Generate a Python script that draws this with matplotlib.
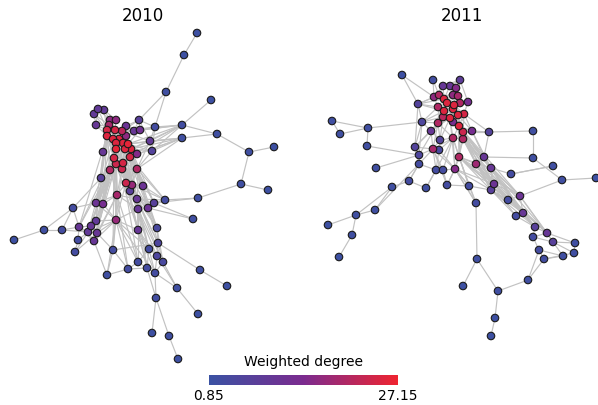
import matplotlib
matplotlib.use("Agg")
import matplotlib.pyplot as plt
from matplotlib.colors import LinearSegmentedColormap, Normalize
from matplotlib.collections import LineCollection
import numpy as np

# ---- 2010 network: node layout, weighted degree, edges ----
x_2010 = [197, 184, 166, 211, 182, 155, 182, 217, 249, 274, 241, 268, 198, 165, 139, 152, 150, 98, 104, 94,
          96, 110, 116, 109, 126, 134, 140, 107, 115, 122, 126, 107, 113, 119, 116, 123, 128, 116, 125, 131,
          103, 137, 114, 130, 116, 123, 110, 122, 137, 101, 126, 132, 143, 130, 117, 137, 73, 96, 103, 138,
          148, 154, 193, 44, 62, 14, 79, 91, 96, 116, 138, 157, 88, 97, 78, 94, 75, 113, 158, 149,
          157, 163, 138, 128, 147, 155, 107, 200, 227, 177, 156, 198, 152, 169, 178]
y_2010 = [33, 55, 92, 100, 125, 127, 138, 134, 152, 147, 184, 190, 198, 200, 120, 151, 141, 109, 110, 114,
          125, 120, 120, 125, 126, 131, 130, 130, 130, 131, 136, 136, 139, 139, 143, 143, 144, 149, 149, 149,
          152, 154, 158, 157, 164, 163, 170, 169, 169, 178, 183, 185, 186, 191, 195, 199, 208, 203, 204, 209,
          208, 203, 219, 230, 230, 240, 227, 226, 221, 220, 230, 228, 232, 233, 240, 241, 252, 250, 243, 249,
          256, 262, 262, 269, 268, 273, 275, 270, 286, 288, 298, 314, 333, 336, 359]
deg_2010 = [1.5, 1.5, 2, 1.5, 2.5, 3, 2, 2, 2, 1.5, 2, 1.5, 2, 3, 7, 6, 9, 9, 9, 9,
            10, 16, 16, 19, 11, 10, 12, 24, 24, 21, 16, 25, 25, 25, 25, 25, 26, 26, 25, 25,
            10, 15, 24, 24, 23, 24, 20, 23, 20, 7, 23, 17, 11, 7, 19, 10, 3, 11, 13, 10,
            11, 7, 2, 2, 3, 1.5, 10, 10, 9, 17, 10, 4, 9, 10, 3, 10, 3, 3, 5, 3,
            5, 4, 3, 3, 3, 3, 2, 2, 1.5, 2, 2.5, 1.5, 1.5, 2, 1.5]
adj_2010 = {
    1: [2], 2: [3], 3: [6, 15], 4: [5], 5: [6, 8, 16, 17, 26, 27, 40, 44], 6: [17, 16, 27, 15],
    7: [8, 16, 17, 42, 40, 44, 49],
    8: [9], 9: [10, 11], 11: [12, 13], 13: [14, 62], 14: [53, 56, 61, 62, 52, 44, 49], 63: [62, 61],
    57: [65, 67, 58, 50, 64], 64: [66, 65], 65: [67, 73], 75: [67, 73, 77], 77: [73, 74],
    78: [70, 87, 84, 79], 87: [84, 76, 70], 84: [83, 85], 88: [79, 89], 90: [86, 82, 92],
    91: [86, 85, 93, 94], 94: [95],
    28: [18, 19, 20, 21, 22, 23, 24, 29, 32, 33, 34, 35, 38, 41, 43, 47, 50, 58],
    29: [22, 23, 24, 25, 30, 33, 34, 36, 39, 43, 44, 45],
    30: [25, 26, 27, 31, 34, 36, 37, 40, 15, 6, 17],
    32: [21, 33, 35, 38, 41, 43, 45, 47, 50, 59, 69, 67],
    33: [34, 35, 36, 38, 39, 45, 46, 55, 70, 73],
    34: [36, 37, 39, 40, 44, 46, 48, 51, 60],
    35: [38, 39, 43, 45, 47, 48, 55, 58, 76],
    36: [37, 39, 40, 44, 46, 49, 52, 56],
    37: [40, 42, 44, 49, 16, 17, 27, 5, 7],
    38: [39, 43, 44, 45, 46, 47, 51, 55, 59, 67, 68, 74],
    39: [40, 44, 46, 48, 49, 51, 52, 53, 61],
    40: [42, 44, 49, 53, 16, 17, 61, 62],
    43: [45, 46, 47, 50, 55, 58, 59, 70, 73, 74, 78],
    44: [46, 48, 49, 51, 52, 53, 56, 60, 62, 72],
    45: [46, 47, 48, 51, 55, 58, 69, 76, 71],
    46: [48, 49, 51, 52, 54, 56, 61, 71, 80],
    47: [48, 50, 55, 58, 59, 68, 69, 73, 67, 76],
    48: [49, 51, 52, 54, 55, 56, 60, 70, 72, 79, 83],
    49: [51, 52, 53, 56, 61, 62, 17, 16, 72],
    51: [52, 53, 54, 55, 56, 60, 61, 70, 71, 81, 85],
    55: [56, 58, 59, 60, 70, 74, 76, 78, 83, 84],
    70: [59, 60, 71, 74, 76, 83, 84, 86, 58, 69, 73, 80],
    56: [60, 61, 62, 71, 72, 79, 80, 82], 60: [71, 80, 82, 85], 61: [62, 72, 79],
    71: [80, 81, 83, 85, 86], 72: [79, 81, 82], 79: [80, 81, 82], 80: [81, 83, 85, 86],
    81: [82, 86, 90], 82: [86], 83: [85], 85: [86], 74: [76, 73, 78], 73: [67, 68, 76],
    68: [69, 67], 58: [59, 69], 59: [69, 74], 67: [76], 76: [],
    18: [19, 20, 21, 22], 19: [22, 23], 20: [21, 24], 21: [24], 25: [26, 27, 15],
    26: [27, 15], 27: [15], 15: [17], 17: [16], 41: [50],
}

# ---- 2011 network ----
x_2011 = [402, 433, 460, 443, 450, 456, 434, 439, 444, 447, 453, 458, 454, 460, 468, 418, 438, 444, 453, 443,
          450, 458, 464, 332, 422, 438, 453, 459, 368, 340, 431, 463, 472, 489, 533, 463, 453, 440, 367, 415,
          433, 439, 419, 459, 484, 533, 419, 476, 376, 436, 443, 455, 491, 553, 511, 562, 596, 392, 409, 426,
          447, 469, 494, 491, 508, 520, 476, 356, 375, 328, 352, 339, 516, 523, 535, 547, 533, 553, 575, 539,
          563, 574, 544, 477, 528, 463, 498, 495, 491]
y_2011 = [75, 80, 80, 86, 86, 88, 97, 95, 99, 103, 95, 96, 105, 103, 102, 104, 107, 111, 109, 117,
          118, 115, 114, 121, 122, 123, 122, 126, 128, 134, 131, 132, 131, 132, 131, 139, 138, 140, 146, 147,
          149, 150, 155, 157, 157, 158, 164, 164, 168, 170, 170, 169, 168, 166, 174, 180, 178, 187, 181, 188,
          185, 186, 184, 190, 200, 196, 203, 215, 210, 225, 235, 257, 216, 213, 227, 233, 237, 242, 243, 250,
          256, 253, 259, 259, 280, 286, 291, 318, 336]
deg_2011 = [1.5, 2.5, 8, 10, 10, 15, 16, 20, 25, 25, 16, 19, 25, 20, 13, 6, 20, 25, 25, 21,
            25, 25, 24, 2, 5, 20, 13, 25, 2, 2, 10, 23, 13, 6, 2, 20, 20, 6, 2, 6,
            19, 4, 5, 20, 10, 2, 3, 18, 2, 3, 3, 15, 10, 2, 3, 2, 1.5, 2, 3, 2,
            3, 3, 11, 7, 3, 11, 3, 2, 2, 1.5, 2, 1.5, 3, 10, 7, 10, 3, 7, 2, 3,
            2, 2, 2.5, 2, 2, 1.5, 2, 1.5, 1.5]
adj_2011 = {
    1: [7, 16], 2: [7, 8], 24: [29, 30], 30: [29], 29: [39, 25], 39: [43], 35: [34, 46],
    46: [45, 56], 54: [55], 56: [57, 66], 55: [53, 54], 49: [43], 58: [59, 68, 69], 59: [47, 60],
    60: [50], 61: [62, 52], 62: [67, 52, 64], 67: [84, 52], 68: [69, 70, 71], 71: [72], 69: [47],
    84: [86, 87], 87: [85, 88], 88: [89], 85: [80, 83], 65: [66, 64, 63],
    73: [74, 75], 74: [75], 75: [76, 77], 76: [78, 79, 77], 78: [79, 82, 81], 77: [80, 78],
    80: [83, 81], 83: [81], 79: [82], 82: [83],
    9: [7, 8, 10, 11, 12, 13, 17, 18, 4, 5, 6, 16],
    10: [13, 14, 17, 18, 19, 11, 12, 20],
    13: [14, 15, 18, 19, 22, 23, 12, 6],
    18: [19, 20, 21, 22, 17, 26, 25, 16],
    19: [21, 22, 23, 14, 15, 27, 28],
    21: [22, 26, 27, 28, 20, 31, 37, 38, 52],
    22: [23, 28, 32, 33, 27, 36, 44],
    23: [28, 32, 33, 15, 34],
    28: [32, 36, 37, 44, 48, 33, 45, 27, 63, 66],
    32: [36, 44, 48, 33, 34, 45, 53, 63, 64, 74],
    17: [20, 26, 16, 25, 7],
    20: [26, 31, 25, 38],
    26: [31, 38, 41, 25, 37, 40, 43],
    36: [37, 44, 48, 52, 45, 53, 63, 64, 66, 75],
    37: [41, 44, 52, 38, 42, 50, 51, 62],
    41: [42, 43, 50, 51, 47, 40, 52, 61],
    44: [48, 52, 62, 63, 64, 66, 65, 53, 67, 74, 76],
    48: [53, 63, 64, 66, 74, 73, 75, 45, 65, 76],
    3: [4, 5, 6, 15, 12], 4: [5, 7, 8], 5: [6, 11], 6: [11, 12], 7: [8, 16], 8: [11, 16],
    16: [25, 40], 25: [31, 40, 43], 31: [38, 40, 41], 38: [42, 41], 40: [43, 47], 43: [47],
    47: [50, 59], 50: [51, 60], 51: [52, 61], 52: [61, 62, 67, 63, 64], 45: [53, 34],
    53: [63, 64, 66, 74, 76, 75],
    63: [64, 66, 65, 74, 75, 76], 64: [65, 73, 74, 75], 66: [74, 76, 78], 42: [50, 52], 34: [33], 33: [45, 53],
}

titles = ["2010", "2011"]
title_x = [143, 462]
deg_min, deg_max = 0.85, 27.15

cmap = LinearSegmentedColormap.from_list("deg", ["#3a52a3", "#7b2b8f", "#ef2430"])
norm = Normalize(vmin=deg_min, vmax=deg_max)

fig = plt.figure(figsize=(5.98, 4.05), dpi=100)
panels = [
    (x_2010, y_2010, deg_2010, adj_2010, [0.0, 0.0, 0.5, 1.0], (0, 299)),
    (x_2011, y_2011, deg_2011, adj_2011, [0.5, 0.0, 0.5, 1.0], (299, 598)),
]
for (xs, ys, ds, adj, rect, xl), title, tx in zip(panels, titles, title_x):
    ax = fig.add_axes(rect)
    ax.set_xlim(*xl)
    ax.set_ylim(405, 0)
    ax.axis("off")
    segs = []
    for a, nbrs in adj.items():
        for b in nbrs:
            segs.append([(xs[a - 1], ys[a - 1]), (xs[b - 1], ys[b - 1])])
    ax.add_collection(LineCollection(segs, colors="#c2c2c2", linewidths=0.85, zorder=1))
    order = np.argsort(ds)
    ax.scatter(np.array(xs)[order], np.array(ys)[order], c=np.array(ds)[order], cmap=cmap, norm=norm,
               s=29, edgecolors="#1a1a1a", linewidths=0.8, zorder=2)
    ax.text(tx, 16, title, ha="center", va="center", fontsize=12)

cax = fig.add_axes([209 / 598, (405 - 385) / 405, 189 / 598, 10 / 405])
sm = plt.cm.ScalarMappable(norm=norm, cmap=cmap)
cb = fig.colorbar(sm, cax=cax, orientation="horizontal")
cb.outline.set_visible(False)
cb.set_ticks([deg_min, deg_max])
cb.set_ticklabels(["0.85", "27.15"])
cb.ax.tick_params(length=0, labelsize=10, pad=3)
fig.text(303.5 / 598, (405 - 362) / 405, "Weighted degree", ha="center", va="center", fontsize=10)

fig.savefig("out.png", dpi=100)
